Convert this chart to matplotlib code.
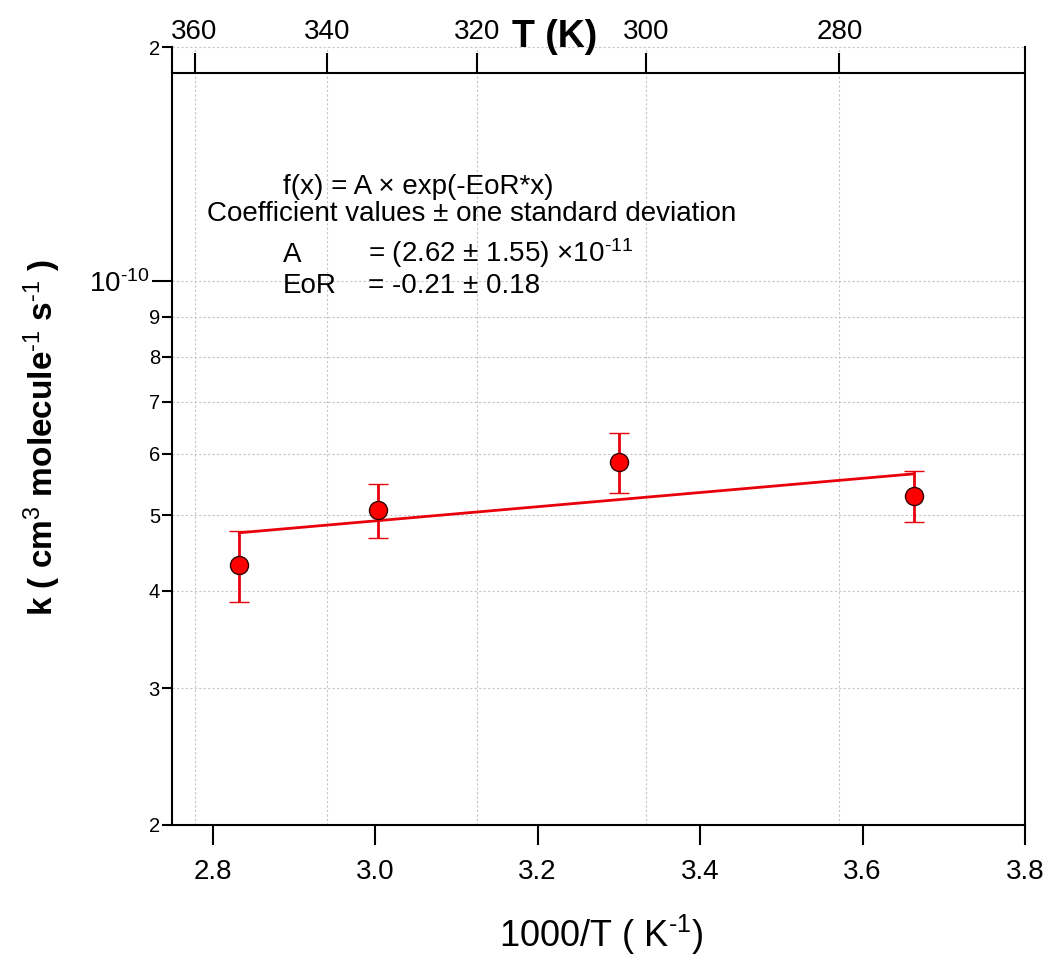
import matplotlib
matplotlib.use("Agg")
import matplotlib.pyplot as plt
import numpy as np

plt.rcParams['font.family'] = ['Liberation Sans', 'DejaVu Sans']
plt.rcParams['mathtext.fontset'] = 'custom'
plt.rcParams['mathtext.rm'] = 'Liberation Sans'
plt.rcParams['mathtext.it'] = 'Liberation Sans:italic'
plt.rcParams['mathtext.bf'] = 'Liberation Sans:bold'

# measured rate coefficients
T_K = [353, 333, 303, 273]
k_rate = [4.32e-11, 5.08e-11, 5.86e-11, 5.30e-11]
k_err = [0.45e-11, 0.40e-11, 0.52e-11, 0.40e-11]

# fit coefficients (Arrhenius-type)
A = 2.62e-11
EoR = -0.21

x_ticks = [2.8, 3.0, 3.2, 3.4, 3.6, 3.8]
x_labels = ['2.8', '3.0', '3.2', '3.4', '3.6', '3.8']
T_ticks = [360, 340, 320, 300, 280]
y_minor = [2e-11, 3e-11, 4e-11, 5e-11, 6e-11, 7e-11, 8e-11, 9e-11, 2e-10]
y_minor_labels = ['2', '3', '4', '5', '6', '7', '8', '9', '2']

red = '#e8000b'
grid_col = '#c4c4c4'
inv_T = 1000.0 / np.array(T_K)

fig = plt.figure(figsize=(10.48, 9.56), dpi=100)
ax = fig.add_axes([172/1048, 131/956, 853/1048, 778/956])

ax.set_yscale('log')
ax.set_xlim(2.75, 3.8)
ax.set_ylim(2e-11, 2e-10)

# grid: horizontal at y ticks, vertical at T ticks
ax.set_yticks([1e-10])
ax.set_yticklabels([r'10$^{\text{-10}}$'], fontsize=20)
ax.set_yticks(y_minor, minor=True)
ax.set_yticklabels(y_minor_labels, minor=True, fontsize=14.5)
ax.yaxis.grid(True, which='both', color=grid_col, linestyle=(0, (2, 2)), linewidth=0.8)
for xv in 1000.0 / np.array(T_ticks):
    ax.axvline(xv, color=grid_col, linestyle=(0, (2, 2)), linewidth=0.8, zorder=0)

ax.set_xticks(x_ticks)
ax.set_xticklabels(x_labels, fontsize=20)
ax.tick_params(axis='x', which='major', direction='out', length=14.5, width=1.5, pad=10)
ax.tick_params(axis='y', which='major', direction='out', length=14.5, width=1.5, pad=2)
ax.tick_params(axis='y', which='minor', direction='out', length=7.2, width=1.5, pad=1.5)
ax.tick_params(top=False, right=False)

for s in ['left', 'right', 'bottom']:
    ax.spines[s].set_linewidth(1.5)
ax.spines['top'].set_visible(False)

# fit line
x_fit = np.linspace(inv_T.min(), inv_T.max(), 50)
ax.plot(x_fit, A * np.exp(-EoR * x_fit), color=red, linewidth=2.0, zorder=3)

ax.errorbar(inv_T, k_rate, yerr=k_err, fmt='o', color=red, ecolor=red,
            markerfacecolor='#ff0000', markeredgecolor='#330000', markeredgewidth=1.0,
            markersize=13, elinewidth=2.0, capsize=7, capthick=2.0, zorder=4)

# top temperature axis
secax = ax.secondary_xaxis(0.9666, functions=(lambda x: 1000.0 / x, lambda x: 1000.0 / x))
secax.set_xticks(T_ticks)
secax.set_xticklabels([str(t) for t in T_ticks], fontsize=20)
secax.tick_params(direction='out', length=14.5, width=1.5, pad=6)
for s in secax.spines.values():
    s.set_linewidth(1.5)

fig.text(555/1048, 1 - 37/956, 'T (K)', fontsize=27, fontweight='bold', ha='center', va='center')

# fit annotation
ax.text(0.1298, 0.8110, 'f(x) = A × exp(-EoR*x)', transform=ax.transAxes, fontsize=20, va='baseline')
ax.text(0.0407, 0.7767, 'Coefficient values ± one standard deviation', transform=ax.transAxes,
        fontsize=20, va='baseline')
ax.text(0.1298, 0.7240, 'A', transform=ax.transAxes, fontsize=20, va='baseline')
ax.text(0.2301, 0.7240, r'= (2.62 ± 1.55) ×10$^{\text{-11}}$', transform=ax.transAxes,
        fontsize=20, va='baseline')
ax.text(0.1298, 0.6834, 'EoR', transform=ax.transAxes, fontsize=20, va='baseline')
ax.text(0.2301, 0.6834, '= -0.21 ± 0.18', transform=ax.transAxes, fontsize=20, va='baseline')

fig.text(601/1048, 1 - 947/956, r'1000/T ( K$^{\text{-1}}$)', fontsize=26, ha='center', va='baseline')
fig.text(42/1048, 1 - 437/956,
         r'k ( cm$^{\text{3}}$ molecule$^{\text{-1}}$ s$^{\text{-1}}$ )',
         fontsize=24, fontweight='bold', rotation=90, ha='center', va='center')

fig.savefig('out.png', dpi=100)
